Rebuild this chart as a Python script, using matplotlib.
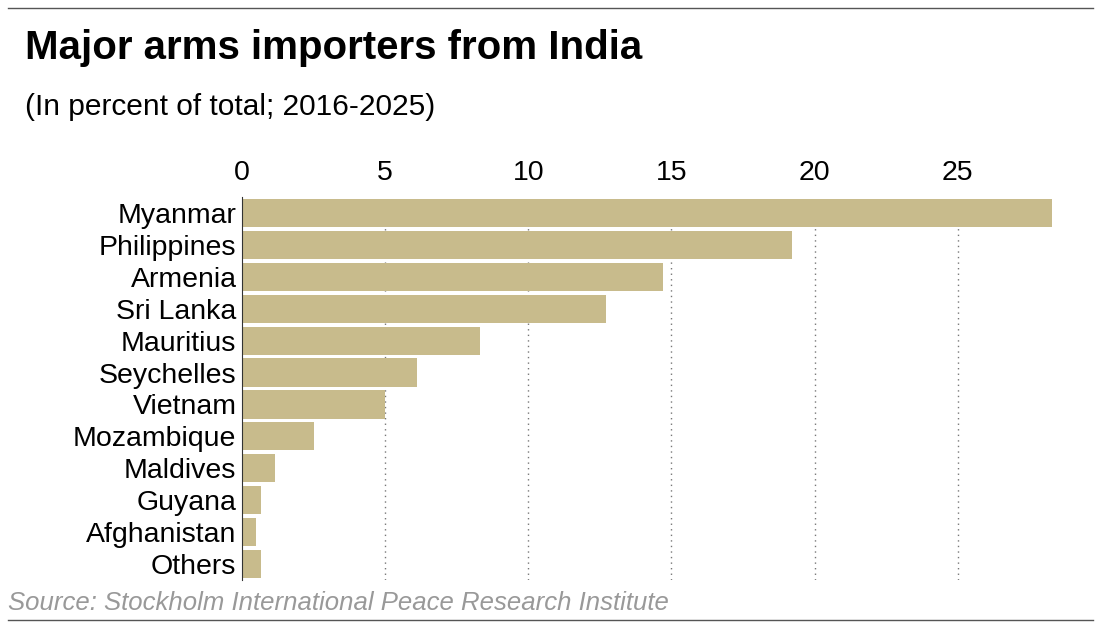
import matplotlib
matplotlib.use("Agg")
import matplotlib.pyplot as plt

plt.rcParams["font.family"] = ["Liberation Sans", "DejaVu Sans"]

countries = ["Myanmar", "Philippines", "Armenia", "Sri Lanka", "Mauritius", "Seychelles",
             "Vietnam", "Mozambique", "Maldives", "Guyana", "Afghanistan", "Others"]
shares = [28.3, 19.2, 14.7, 12.7, 8.3, 6.1, 5.0, 2.5, 1.15, 0.65, 0.5, 0.65]
ticks = [0, 5, 10, 15, 20, 25]

fig = plt.figure(figsize=(11.01, 6.27), dpi=100)
ax = fig.add_axes([242/1101, 1-580/627, (1055-242)/1101, (580-197)/627])

y = list(range(len(countries)))
ax.barh(y, shares, height=0.88, color="#c8bb8c", zorder=2)
ax.set_ylim(len(countries)-0.5, -0.5)
ax.set_xlim(0, 28.4)
ax.set_yticks(y)
ax.set_yticklabels(countries, fontsize=20.5)
ax.set_xticks(ticks)
ax.set_xticklabels([str(t) for t in ticks], fontsize=20.5)
ax.xaxis.tick_top()
ax.tick_params(axis="both", length=0, pad=4)
ax.tick_params(axis="x", pad=8)
for t in ticks[1:]:
    ax.axvline(t, color="#777777", linestyle=(0, (1, 3)), linewidth=1, zorder=1)
for s in ["top", "right", "bottom"]:
    ax.spines[s].set_visible(False)
ax.spines["left"].set_color("#333333")

fig.text(25/1101, 1-48/627, "Major arms importers from India", fontsize=29, fontweight="bold", va="center")
fig.text(25/1101, 1-107/627, "(In percent of total; 2016-2025)", fontsize=21.5, va="center")
fig.text(8/1101, 1-603/627, "Source: Stockholm International Peace Research Institute",
         fontsize=18.5, style="italic", color="#999999", va="center")
fig.add_artist(plt.Line2D([8/1101, 1093/1101], [1-8/627, 1-8/627], color="#555555", linewidth=1))
fig.add_artist(plt.Line2D([8/1101, 1093/1101], [1-620/627, 1-620/627], color="#555555", linewidth=1))

fig.savefig("out.png", dpi=100)
